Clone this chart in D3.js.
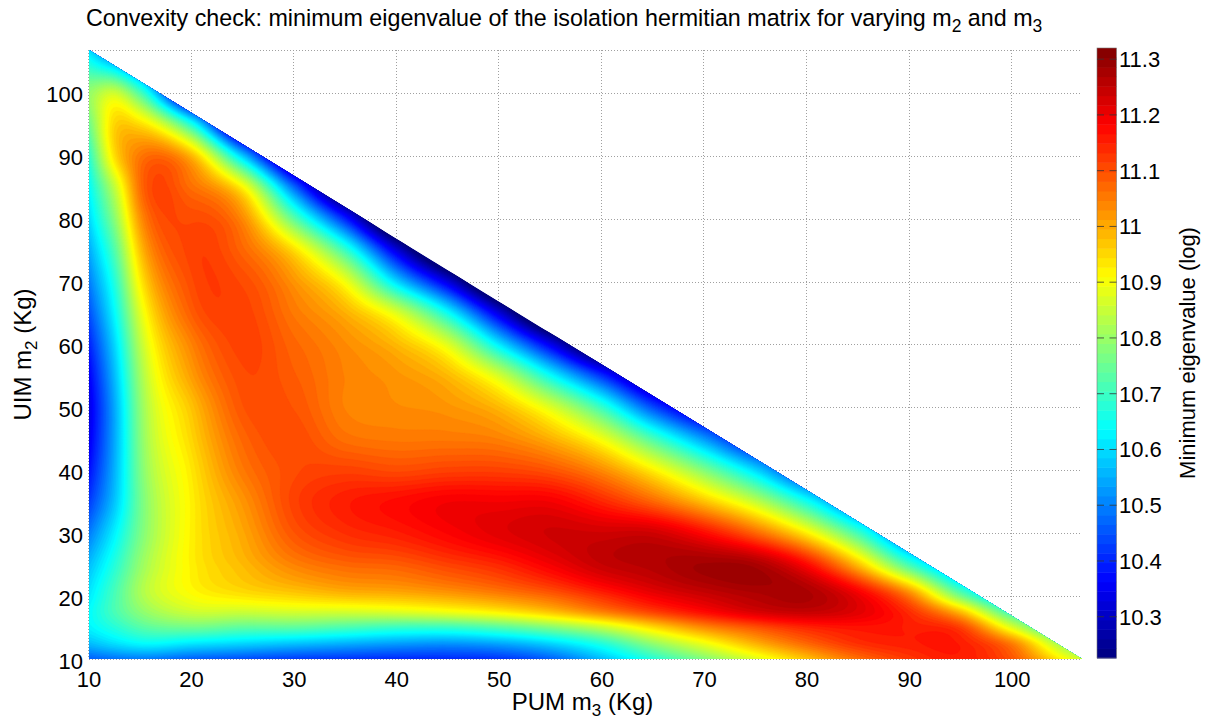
<!DOCTYPE html>
<html><head><meta charset="utf-8">
<script src="https://cdn.jsdelivr.net/npm/d3@7"></script>
<style>
body{margin:0;background:#fff;}
svg{display:block;font-family:"Liberation Sans",Arial,Helvetica,sans-serif;}
</style></head><body>
<svg id="chart" width="1219" height="721"></svg>
<script>
// ---------------- data ----------------
const titleText = "Convexity check: minimum eigenvalue of the isolation hermitian matrix for varying m";
const xLabelText = ["PUM m", "3", " (Kg)"];
const yLabelText = ["UIM m", "2", " (Kg)"];
const cbarLabelText = "Minimum eigenvalue (log)";

const xTicks = [10, 20, 30, 40, 50, 60, 70, 80, 90, 100];
const yTicks = [10, 20, 30, 40, 50, 60, 70, 80, 90, 100];
const cbarTicks = [10.3, 10.4, 10.5, 10.6, 10.7, 10.8, 10.9, 11, 11.1, 11.2, 11.3];
const cbarTickLabels = ["10.3", "10.4", "10.5", "10.6", "10.7", "10.8", "10.9", "11", "11.1", "11.2", "11.3"];

const massMin = 10, massMax = 106.8;       // axis range (Kg)
const colorMin = 10.226, colorMax = 11.32;  // colour range (log eigenvalue)

// grid knots: m3 (columns) and m2 (rows)
const m3Knots = [10, 12.5, 15, 20, 25, 30, 35, 40, 45, 50, 55, 60, 65, 70, 75, 80, 85, 90, 95, 100, 105, 110];
const m2Knots = [10, 12.5, 15, 17.5, 20, 25, 30, 35, 40, 45, 50, 55, 60, 65, 70, 75, 80, 85, 90, 95, 100, 105, 110];

// estimated minimum eigenvalue (log) at each (m2 row, m3 column); nodes past the
// hypotenuse are only there to shape the field at the edge and are clipped away
const minEigRows = [
 [10.47,10.49,10.50,10.47,10.45,10.43,10.42,10.41,10.41,10.42,10.47,10.57,10.68,10.78,10.88,10.98,11.07,11.13,11.16,11.10,10.92,10.75],
 [10.57,10.61,10.64,10.62,10.60,10.58,10.56,10.54,10.53,10.55,10.60,10.68,10.80,10.90,11.00,11.08,11.14,11.16,11.16,11.05,10.80,10.65],
 [10.63,10.68,10.73,10.76,10.74,10.74,10.72,10.70,10.70,10.73,10.78,10.85,10.95,11.04,11.10,11.15,11.17,11.16,11.12,10.88,10.65,10.60],
 [10.64,10.72,10.79,10.86,10.86,10.87,10.87,10.88,10.90,10.93,10.98,11.05,11.12,11.18,11.23,11.25,11.22,11.14,10.98,10.70,10.60,10.60],
 [10.62,10.72,10.82,10.91,10.94,10.96,10.98,10.99,11.01,11.04,11.08,11.14,11.20,11.24,11.27,11.28,11.21,11.06,10.77,10.55,10.55,10.55],
 [10.57,10.68,10.80,10.93,10.99,11.05,11.08,11.09,11.12,11.15,11.20,11.25,11.27,11.29,11.28,11.18,10.98,10.71,10.50,10.45,10.50,10.50],
 [10.50,10.63,10.77,10.93,11.01,11.10,11.14,11.16,11.19,11.22,11.24,11.24,11.24,11.18,11.08,10.93,10.71,10.45,10.40,10.40,10.45,10.50],
 [10.43,10.58,10.76,10.93,11.03,11.12,11.16,11.18,11.20,11.20,11.20,11.15,11.08,10.98,10.85,10.66,10.45,10.35,10.35,10.40,10.45,10.50],
 [10.38,10.56,10.77,10.94,11.06,11.11,11.12,11.11,11.12,11.12,11.10,11.04,10.93,10.78,10.60,10.40,10.35,10.35,10.35,10.40,10.45,10.50],
 [10.35,10.55,10.78,10.96,11.08,11.11,11.07,11.06,11.06,11.05,11.00,10.90,10.72,10.53,10.35,10.30,10.30,10.30,10.35,10.40,10.45,10.50],
 [10.34,10.55,10.79,10.98,11.10,11.10,11.05,11.04,11.03,10.99,10.88,10.70,10.45,10.28,10.25,10.25,10.30,10.30,10.35,10.40,10.45,10.50],
 [10.36,10.57,10.81,11.02,11.11,11.09,11.05,11.03,10.99,10.87,10.65,10.42,10.20,10.15,10.20,10.25,10.30,10.30,10.35,10.40,10.45,10.50],
 [10.40,10.60,10.84,11.05,11.12,11.08,11.04,10.99,10.88,10.62,10.35,10.10,10.05,10.10,10.20,10.25,10.30,10.30,10.35,10.40,10.45,10.50],
 [10.45,10.64,10.88,11.09,11.12,11.06,11.00,10.88,10.65,10.33,10.05,10.00,10.00,10.10,10.20,10.25,10.30,10.30,10.35,10.40,10.45,10.50],
 [10.50,10.68,10.93,11.11,11.11,11.03,10.90,10.60,10.33,10.05,10.00,10.00,10.00,10.10,10.20,10.25,10.30,10.30,10.35,10.40,10.45,10.50],
 [10.55,10.73,10.98,11.12,11.08,10.95,10.70,10.33,10.05,10.00,10.00,10.00,10.00,10.10,10.20,10.25,10.30,10.30,10.35,10.40,10.45,10.50],
 [10.60,10.79,11.03,11.11,11.04,10.74,10.40,10.05,10.00,10.00,10.00,10.00,10.00,10.10,10.20,10.25,10.30,10.30,10.35,10.40,10.45,10.50],
 [10.64,10.85,11.07,11.07,10.92,10.48,10.10,10.00,10.00,10.00,10.00,10.00,10.00,10.10,10.20,10.25,10.30,10.30,10.35,10.40,10.45,10.50],
 [10.69,10.95,11.06,10.99,10.58,10.15,10.00,10.00,10.00,10.00,10.00,10.00,10.00,10.10,10.20,10.25,10.30,10.30,10.35,10.40,10.45,10.50],
 [10.76,10.96,10.95,10.67,10.15,10.00,10.00,10.00,10.00,10.00,10.00,10.00,10.00,10.10,10.20,10.25,10.30,10.30,10.35,10.40,10.45,10.50],
 [10.80,10.86,10.72,10.20,10.00,10.00,10.00,10.00,10.00,10.00,10.00,10.00,10.00,10.10,10.20,10.25,10.30,10.30,10.35,10.40,10.45,10.50],
 [10.66,10.55,10.40,10.10,10.00,10.00,10.00,10.00,10.00,10.00,10.00,10.00,10.00,10.10,10.20,10.25,10.30,10.30,10.35,10.40,10.45,10.50],
 [10.50,10.30,10.20,10.10,10.00,10.00,10.00,10.00,10.00,10.00,10.00,10.00,10.00,10.10,10.20,10.25,10.30,10.30,10.35,10.40,10.45,10.50]
];

// ---------------- layout ----------------
const plot = {left: 89, right: 1082, top: 50, bottom: 659};
const cbar = {left: 1097, right: 1116.5, top: 48, bottom: 658};

const svg = d3.select("#chart");
const x = d3.scaleLinear().domain([massMin, massMax]).range([plot.left, plot.right]);
const y = d3.scaleLinear().domain([massMin, massMax]).range([plot.bottom, plot.top]);

function jet(t) {
  t = Math.max(0, Math.min(1, t));
  const c = v => Math.max(0, Math.min(1, v)) * 255;
  return d3.rgb(c(1.5 - Math.abs(4 * t - 3)), c(1.5 - Math.abs(4 * t - 2)), c(1.5 - Math.abs(4 * t - 1))).formatHex();
}
const color = d3.scaleSequential(jet).domain([colorMin, colorMax]);

// cubic Hermite interpolator on non-uniform knots (rendering only)
function hermite(xs, ys) {
  const n = xs.length, m = new Array(n);
  for (let k = 0; k < n; k++) {
    if (k === 0) m[k] = (ys[1] - ys[0]) / (xs[1] - xs[0]);
    else if (k === n - 1) m[k] = (ys[n - 1] - ys[n - 2]) / (xs[n - 1] - xs[n - 2]);
    else {
      const h0 = xs[k] - xs[k - 1], h1 = xs[k + 1] - xs[k];
      const s0 = (ys[k] - ys[k - 1]) / h0, s1 = (ys[k + 1] - ys[k]) / h1;
      m[k] = (s0 * h1 + s1 * h0) / (h0 + h1);
    }
  }
  return function (v) {
    let i = d3.bisectRight(xs, v) - 1;
    i = Math.max(0, Math.min(n - 2, i));
    const h = xs[i + 1] - xs[i], t = (v - xs[i]) / h, t2 = t * t, t3 = t2 * t;
    return (2 * t3 - 3 * t2 + 1) * ys[i] + (t3 - 2 * t2 + t) * h * m[i] +
           (-2 * t3 + 3 * t2) * ys[i + 1] + (t3 - t2) * h * m[i + 1];
  };
}

// fine sampling for smooth filled contours
const nx = 400, ny = 400;
const dX = (massMax - massMin) / (nx - 1), dY = (massMax - massMin) / (ny - 1);
const fineX = d3.range(nx).map(i => massMin + i * dX);
const fineY = d3.range(ny).map(j => massMin + j * dY);
const rowFine = minEigRows.map(row => { const f = hermite(m3Knots, row); return fineX.map(f); });
const values = new Float64Array(nx * ny);
for (let i = 0; i < nx; i++) {
  const f = hermite(m2Knots, rowFine.map(r => r[i]));
  for (let j = 0; j < ny; j++) values[j * nx + i] = f(fineY[j]);
}

const step = 0.0125;
const levels = d3.range(colorMin, colorMax, step);
const contours = d3.contours().size([nx, ny]).thresholds(levels)(values);
const proj = d3.geoTransform({
  point: function (px, py) {
    this.stream.point(x(massMin + (px - 0.5) * dX), y(massMin + (py - 0.5) * dY));
  }
});
const path = d3.geoPath(proj);

// clip: the feasible triangle
const tri = [[massMin, massMin], [massMax, massMin], [massMin, massMax]];
svg.append("defs").append("clipPath").attr("id", "tri")
  .append("path").attr("d", "M" + tri.map(p => [x(p[0]), y(p[1])].join(",")).join("L") + "Z");

// grid (behind)
const grid = svg.append("g").attr("stroke", "#a0a0a0").attr("stroke-width", 1).attr("stroke-dasharray", "1,2");
grid.selectAll("line.v").data(xTicks).join("line")
  .attr("x1", d => Math.round(x(d)) - 0.5).attr("x2", d => Math.round(x(d)) - 0.5)
  .attr("y1", plot.top).attr("y2", plot.bottom);
grid.selectAll("line.h").data(yTicks.concat([massMax])).join("line")
  .attr("y1", d => Math.round(y(d)) + 0.5).attr("y2", d => Math.round(y(d)) + 0.5)
  .attr("x1", plot.left).attr("x2", plot.right);

// filled contours
const gC = svg.append("g").attr("clip-path", "url(#tri)");
gC.append("path").attr("d", "M" + tri.map(p => [x(p[0]), y(p[1])].join(",")).join("L") + "Z")
  .attr("fill", color(colorMin));
gC.selectAll("path.c").data(contours).join("path").attr("class", "c")
  .attr("d", path).attr("fill", d => color(d.value)).attr("stroke", d => color(d.value)).attr("stroke-width", 0.3);

// tick labels
const fs = 22;
svg.append("g").selectAll("text").data(xTicks).join("text")
  .attr("x", d => x(d)).attr("y", 687).attr("text-anchor", "middle")
  .attr("font-size", fs).text(d => d);
svg.append("g").selectAll("text").data(yTicks).join("text")
  .attr("x", 83).attr("y", d => y(d) + 9.5).attr("text-anchor", "end")
  .attr("font-size", fs).text(d => d);

// axis labels
const xl = svg.append("text").attr("x", (plot.left + plot.right) / 2 - 3).attr("y", 710)
  .attr("text-anchor", "middle").attr("font-size", 24);
xl.append("tspan").text(xLabelText[0]);
xl.append("tspan").attr("font-size", 17).attr("dy", 6).text(xLabelText[1]);
xl.append("tspan").attr("dy", -6).text(xLabelText[2]);

const yl = svg.append("text").attr("transform", `translate(31,${(plot.top + plot.bottom) / 2}) rotate(-90)`)
  .attr("text-anchor", "middle").attr("font-size", 24);
yl.append("tspan").text(yLabelText[0]);
yl.append("tspan").attr("font-size", 17).attr("dy", 6).text(yLabelText[1]);
yl.append("tspan").attr("dy", -6).text(yLabelText[2]);

// title
const tt = svg.append("text").attr("x", 86).attr("y", 26).attr("font-size", 20);
tt.append("tspan").text(titleText);
tt.append("tspan").attr("font-size", 15).attr("dy", 6).text("2");
tt.append("tspan").attr("dy", -6).text(" and m");
tt.append("tspan").attr("font-size", 15).attr("dy", 6).text("3");
const tw = tt.node().getBBox().width;
tt.attr("font-size", 20 * 957 / tw);
tt.selectAll("tspan").filter((d, i) => i % 2 === 1).attr("font-size", 15 * 957 / tw);

// colorbar
const cy = d3.scaleLinear().domain([colorMin, colorMax]).range([cbar.bottom, cbar.top]);
const nCol = 64, dv = (colorMax - colorMin) / nCol;
const cg = svg.append("g");
cg.selectAll("rect").data(d3.range(nCol)).join("rect")
  .attr("x", cbar.left).attr("width", cbar.right - cbar.left)
  .attr("y", k => cy(colorMin + (k + 1) * dv)).attr("height", k => cy(colorMin + k * dv) - cy(colorMin + (k + 1) * dv) + 0.5)
  .attr("fill", k => color(colorMin + (k + 0.5) * dv));
cg.append("rect").attr("x", cbar.left).attr("y", cbar.top).attr("width", cbar.right - cbar.left)
  .attr("height", cbar.bottom - cbar.top).attr("fill", "none").attr("stroke", "#777").attr("stroke-width", 0.6);
cg.selectAll("line.l").data(cbarTicks).join("line")
  .attr("x1", cbar.left).attr("x2", cbar.left + 7).attr("y1", d => cy(d)).attr("y2", d => cy(d))
  .attr("stroke", "#333").attr("stroke-width", 0.8);
cg.selectAll("line.r").data(cbarTicks).join("line")
  .attr("x1", cbar.right - 7).attr("x2", cbar.right).attr("y1", d => cy(d)).attr("y2", d => cy(d))
  .attr("stroke", "#333").attr("stroke-width", 0.8);
cg.selectAll("text").data(cbarTicks).join("text")
  .attr("x", 1119).attr("y", d => cy(d) + 8).attr("font-size", fs)
  .text((d, i) => cbarTickLabels[i]);
svg.append("text").attr("transform", `translate(1195,${(cbar.top + cbar.bottom) / 2}) rotate(-90)`)
  .attr("text-anchor", "middle").attr("font-size", 22).text(cbarLabelText);
</script>
</body></html>
